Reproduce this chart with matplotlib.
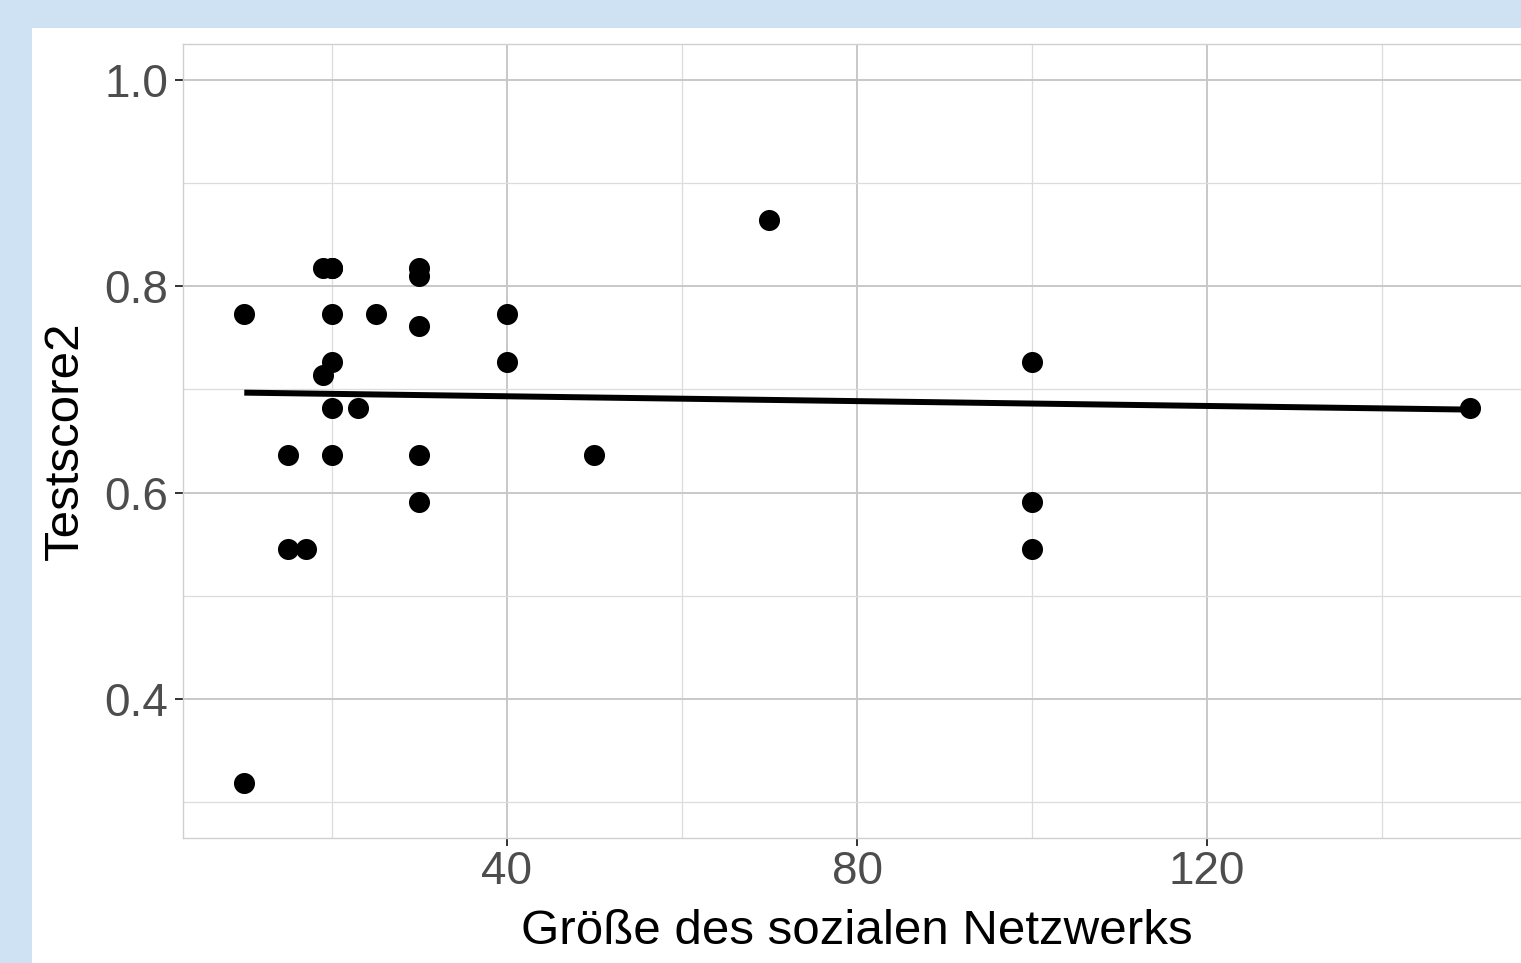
import numpy as np
import matplotlib
matplotlib.use("Agg")
import matplotlib.pyplot as plt
from matplotlib.ticker import FixedLocator

# Data (one overplotted duplicate at (20, 0.818) inferred from the regression line)
netzwerk = [10, 10, 15, 15, 17, 19, 20, 20, 19, 20, 20, 20, 20, 23, 25,
            30, 30, 30, 30, 30, 40, 40, 50, 70, 100, 100, 100, 150]
testscore2 = [0.773, 0.318, 0.636, 0.545, 0.545, 0.818, 0.818, 0.818, 0.714, 0.773, 0.727, 0.682, 0.636, 0.682, 0.773,
              0.818, 0.810, 0.762, 0.636, 0.591, 0.773, 0.727, 0.636, 0.864, 0.727, 0.591, 0.545, 0.682]
x_major = [40, 80, 120]
x_minor = [20, 60, 100, 140]
y_major = [0.4, 0.6, 0.8, 1.0]
y_minor = [0.3, 0.5, 0.7, 0.9]
x_labels = ['40', '80', '120']
y_labels = ['0.4', '0.6', '0.8', '1.0']

plt.rcParams['font.family'] = ['Liberation Sans', 'DejaVu Sans']

W, H = 1521, 963
fig = plt.figure(figsize=(W / 100, H / 100), dpi=100)
fig.patch.set_facecolor('#cfe2f3')
# white inner plot background
fig.add_artist(plt.Rectangle((32 / W, 0), 1, (H - 28) / H, transform=fig.transFigure,
                             facecolor='white', edgecolor='none', zorder=0))

left, right, top, bottom = 183, 1531, 44, 838
ax = fig.add_axes([left / W, (H - bottom) / H, (right - left) / W, (bottom - top) / H])
ax.set_facecolor('white')

x = np.array(netzwerk, dtype=float)
y = np.array(testscore2, dtype=float)
ax.set_xlim(3, 157)
ax.set_ylim(0.265, 1.035)

ax.xaxis.set_major_locator(FixedLocator(x_major))
ax.xaxis.set_minor_locator(FixedLocator(x_minor))
ax.yaxis.set_major_locator(FixedLocator(y_major))
ax.yaxis.set_minor_locator(FixedLocator(y_minor))
ax.set_yticklabels(y_labels)
ax.set_xticklabels(x_labels)

ax.grid(which='major', color='#c8c8c8', linewidth=1.4, zorder=1)
ax.grid(which='minor', color='#dcdcdc', linewidth=0.9, zorder=1)
ax.set_axisbelow(True)

for s in ax.spines.values():
    s.set_color('#d0d0d0')
    s.set_linewidth(1.0)

ax.tick_params(which='major', length=5.5, width=1.4, color='#333333', labelsize=33,
               labelcolor='#4d4d4d')
ax.tick_params(axis='x', which='major', pad=3)
ax.tick_params(axis='y', which='major', pad=5)
ax.tick_params(which='minor', length=0)

ax.scatter(x, y, s=230, color='black', zorder=3, linewidths=0)

coef = np.polyfit(x, y, 1)
xs = np.array([x.min(), x.max()])
ax.plot(xs, np.polyval(coef, xs), color='black', linewidth=4.3, zorder=4, solid_capstyle='butt')

ax.set_xlabel('Größe des sozialen Netzwerks', fontsize=35.5, color='black', labelpad=11)
ax.set_ylabel('Testscore2', fontsize=35.5, color='black', labelpad=12)

fig.savefig('out.png', dpi=100, facecolor=fig.get_facecolor())
